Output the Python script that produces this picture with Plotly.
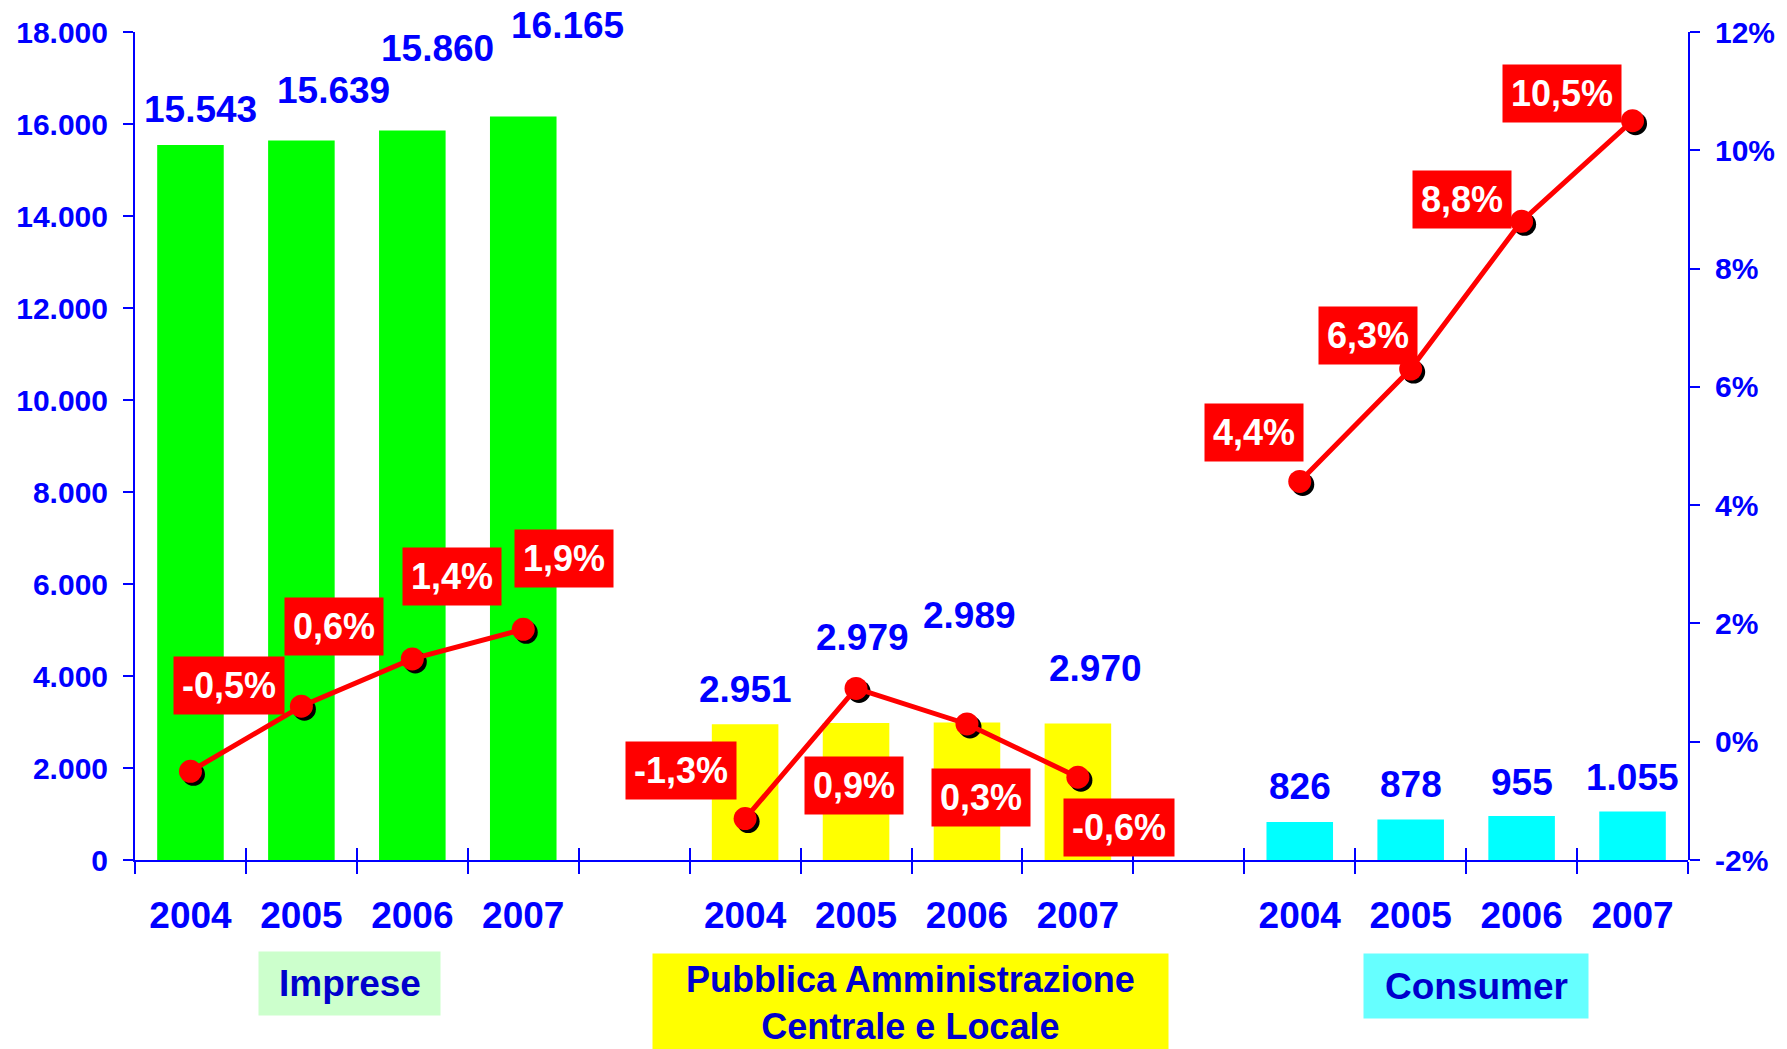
import plotly.graph_objects as go

# ---------------- data ----------------
years = ["2004", "2005", "2006", "2007"]
groups = ["Imprese", "Pubblica Amministrazione<br>Centrale e Locale", "Consumer"]
imprese_values = [15543, 15639, 15860, 16165]
pa_values = [2951, 2979, 2989, 2970]
consumer_values = [826, 878, 955, 1055]
imprese_growth = [-0.5, 0.6, 1.4, 1.9]
pa_growth = [-1.3, 0.9, 0.3, -0.6]
consumer_growth = [4.4, 6.3, 8.8, 10.5]
left_ticks = [0, 2000, 4000, 6000, 8000, 10000, 12000, 14000, 16000, 18000]
right_ticks = [-2, 0, 2, 4, 6, 8, 10, 12]
right_tick_text = ["-2%", "0%", "2%", "4%", "6%", "8%", "10%", "12%"]

# ---------------- styling / placement ----------------
FONT = "Liberation Sans, Arial, sans-serif"
BLUE = "#0000FF"
bar_colors = ["#00FF00", "#FFFF00", "#00FFFF"]
group_bg = ["#CCFFCC", "#FFFF00", "#66FFFF"]
group_box = [(181, 63), (515, 110), (224, 64)]
group_box_shift = [(-7, -120), (-1, -146), (10, -123)]
group_text_shift = [(-7, -120), (-1, -140), (10, -123)]
group_font = [37, 36, 37]
value_shifts = [
    [(10, 36), (32, 50), (25, 82), (44, 91)],
    [(0, 35), (6, 85), (3, 107), (18, 55)],
    [(0, 36), (0, 35), (0, 34), (0, 34)],
]
pct_shifts = [
    [(39, 86), (33, 80), (40, 82), (41, 71)],
    [(-64, 48), (-2, -97), (14, -74), (41, -50)],
    [(-46, 49), (-43, 34), (-60, 22), (-71, 27)],
]

W, H = 1787, 1049
ML, MR, MT, MB = 135, 92, 32, 186
pw, ph = W - ML - MR, H - MT - MB
dx, dy = 3.0 / pw, 3.0 / ph

values = [imprese_values, pa_values, consumer_values]
growth = [imprese_growth, pa_growth, consumer_growth]

slots_per_group = len(years) + 1
n_slots = slots_per_group * len(groups) - 1
xrange = [-0.5, n_slots - 0.5]
boundaries = [b - 0.5 for b in range(n_slots + 1)]

fig = go.Figure()
annotations = []
tickvals, ticktext = [], []

for g in range(len(groups)):
    xs = [g * slots_per_group + i for i in range(len(years))]
    tickvals += xs
    ticktext += years
    fig.add_trace(go.Bar(x=xs, y=values[g], width=0.6, marker=dict(color=bar_colors[g], line=dict(width=0)),
                         xaxis="x", yaxis="y", showlegend=False, hoverinfo="skip"))
    # shadow markers
    fig.add_trace(go.Scatter(x=xs, y=growth[g], mode="markers", xaxis="x2", yaxis="y2",
                             marker=dict(color="black", size=23, line=dict(width=0)),
                             showlegend=False, hoverinfo="skip", cliponaxis=False))
    for i, (x, v) in enumerate(zip(xs, values[g])):
        sx, sy = value_shifts[g][i]
        annotations.append(dict(x=x, y=v, xref="x", yref="y", text=f"{v:,}".replace(",", "."),
                                showarrow=False, xshift=sx, yshift=sy,
                                font=dict(family=FONT, size=37, color=BLUE, weight="bold")))
    gx = (xs[0] + xs[-1]) / 2
    # coloured box
    annotations.append(dict(x=gx, y=0, xref="x", yref="paper", text="",
                            showarrow=False, xshift=group_box_shift[g][0], yshift=group_box_shift[g][1],
                            width=group_box[g][0], height=group_box[g][1], bgcolor=group_bg[g],
                            borderpad=0, yanchor="middle"))
    # group text
    annotations.append(dict(x=gx, y=0, xref="x", yref="paper", text="<b>" + groups[g] + "</b>",
                            showarrow=False, xshift=group_text_shift[g][0], yshift=group_text_shift[g][1],
                            yanchor="middle",
                            font=dict(family=FONT, size=group_font[g], color="#0000CC")))

for g in range(len(groups)):
    xs = [g * slots_per_group + i for i in range(len(years))]
    fig.add_trace(go.Scatter(x=xs, y=growth[g], mode="lines+markers", xaxis="x3", yaxis="y3",
                             line=dict(color="#FF0000", width=5),
                             marker=dict(color="#FF0000", size=23, line=dict(width=0)),
                             showlegend=False, hoverinfo="skip", cliponaxis=False))
    for i, (x, v) in enumerate(zip(xs, growth[g])):
        sx, sy = pct_shifts[g][i]
        annotations.append(dict(x=x, y=v, xref="x3", yref="y3",
                                text=f"{v:.1f}".replace(".", ",") + "%",
                                showarrow=False, xshift=sx, yshift=sy, bgcolor="#FF0000", borderpad=8,
                                font=dict(family=FONT, size=36, color="white", weight="bold")))

tickfont = dict(family=FONT, size=30, color=BLUE, weight="bold")

fig.update_layout(
    width=W, height=H,
    margin=dict(l=ML, r=MR, t=MT, b=MB, pad=0),
    paper_bgcolor="white", plot_bgcolor="rgba(0,0,0,0)",
    separators=",.",
    annotations=annotations,
    xaxis=dict(domain=[0, 1 - dx], range=xrange, anchor="y",
               tickmode="array", tickvals=tickvals, ticktext=ticktext,
               ticks="outside", ticklen=1, tickcolor="rgba(0,0,0,0)", ticklabelstandoff=21,
               tickfont=dict(family=FONT, size=37, color=BLUE, weight="bold"),
               minor=dict(tickmode="array", tickvals=boundaries, ticks="outside", ticklen=12,
                          tickwidth=2, tickcolor=BLUE),
               showline=True, linecolor=BLUE, linewidth=2, showgrid=False, zeroline=False),
    yaxis=dict(domain=[dy, 1], range=[0, 18000], anchor="x",
               tickmode="array", tickvals=left_ticks, tickformat=",d",
               ticks="outside", ticklen=10, tickwidth=2, tickcolor=BLUE, ticklabelstandoff=9,
               tickfont=tickfont, showline=True, linecolor=BLUE, linewidth=2,
               showgrid=False, zeroline=False),
    yaxis4=dict(overlaying="y", anchor="x", side="left", range=[0, 18000],
                tickmode="array", tickvals=left_ticks, ticks="inside", ticklen=10, tickwidth=2,
                tickcolor=BLUE, showticklabels=False, showline=False, showgrid=False, zeroline=False),
    xaxis2=dict(domain=[dx, 1], range=xrange, anchor="y2", visible=False),
    yaxis2=dict(domain=[0, 1 - dy], range=[-2, 12], anchor="x2", visible=False),
    xaxis3=dict(domain=[0, 1 - dx], range=xrange, anchor="y3",
                tickmode="array", tickvals=boundaries, ticks="inside", ticklen=12, tickwidth=2,
                tickcolor=BLUE, showticklabels=False, showline=False, showgrid=False, zeroline=False),
    yaxis3=dict(domain=[dy, 1], range=[-2, 12], anchor="x3", side="right",
                tickmode="array", tickvals=right_ticks, ticktext=right_tick_text,
                ticks="outside", ticklen=10, tickwidth=2, tickcolor=BLUE, ticklabelstandoff=9,
                tickfont=tickfont, showline=True, linecolor=BLUE, linewidth=2,
                showgrid=False, zeroline=False),
    yaxis5=dict(overlaying="y3", anchor="x3", side="right", range=[-2, 12],
                tickmode="array", tickvals=right_ticks, ticks="inside", ticklen=10, tickwidth=2,
                tickcolor=BLUE, showticklabels=False, showline=False, showgrid=False, zeroline=False),
)

fig.write_html("out.html")
